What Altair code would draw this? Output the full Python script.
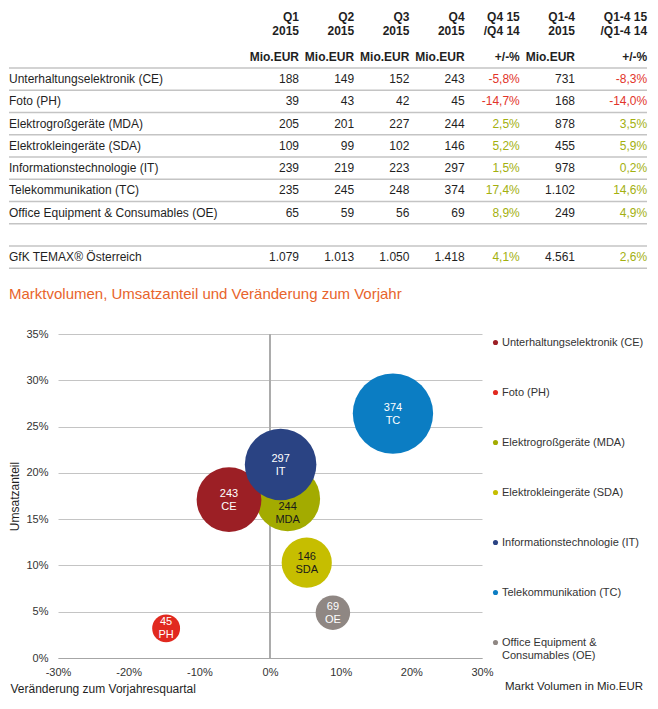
import altair as alt
import pandas as pd

# ---------------- data ----------------
categories = [
    "Unterhaltungselektronik (CE)",
    "Foto (PH)",
    "Elektrogroßgeräte (MDA)",
    "Elektrokleingeräte (SDA)",
    "Informationstechnologie (IT)",
    "Telekommunikation (TC)",
    "Office Equipment & Consumables (OE)",
]
codes = ["CE", "PH", "MDA", "SDA", "IT", "TC", "OE"]
q1 = [188, 39, 205, 109, 239, 235, 65]
q2 = [149, 43, 201, 99, 219, 245, 59]
q3 = [152, 42, 227, 102, 223, 248, 56]
q4 = [243, 45, 244, 146, 297, 374, 69]
chg_q4 = [-5.8, -14.7, 2.5, 5.2, 1.5, 17.4, 8.9]
year_total = [731, 168, 878, 455, 978, 1102, 249]
chg_year = [-8.3, -14.0, 3.5, 5.9, 0.2, 14.6, 4.9]

total_label = "GfK TEMAX® Österreich"
total_quarters = [1079, 1013, 1050, 1418]
total_chg_q4 = 4.1
total_year = 4561
total_chg_year = 2.6

header_top = ["Q1\n2015", "Q2\n2015", "Q3\n2015", "Q4\n2015",
              "Q4 15\n/Q4 14", "Q1-4\n2015", "Q1-4 15\n/Q1-4 14"]
header_unit = ["Mio.EUR", "Mio.EUR", "Mio.EUR", "Mio.EUR", "+/-%", "Mio.EUR", "+/-%"]

# bubble chart: share of Q4 market volume (%)
share = [17.1, 3.2, 17.2, 10.3, 20.9, 26.4, 4.9]

colors = ["#9c1f25", "#e1291f", "#a3ab00", "#c6be00", "#2a4383", "#0b7dc3", "#8f8783"]
inner_text_colors = ["white", "white", "#1a1a1a", "#1a1a1a", "white", "white", "white"]
draw_order = [1, 3, 0, 4, 2, 5, 6]

RED = "#e2342a"
GREEN = "#a3b00f"
TXT = "#1f1f1f"
FONT = "Liberation Sans"


def de_int(v):
    return f"{v:,}".replace(",", ".")


def de_pct(v):
    return f"{v:.1f}%".replace(".", ",")


# ---------------- table ----------------
cells = []
def add_row(r, label, vals4, c4, tot, cy):
    cells.append(dict(row=r, col=0, text=label, color=TXT, kind="label"))
    for j, v in enumerate(vals4):
        cells.append(dict(row=r, col=j + 1, text=de_int(v), color=TXT, kind="value"))
    cells.append(dict(row=r, col=5, text=de_pct(c4), color=RED if c4 < 0 else GREEN, kind="value"))
    cells.append(dict(row=r, col=6, text=de_int(tot), color=TXT, kind="value"))
    cells.append(dict(row=r, col=7, text=de_pct(cy), color=RED if cy < 0 else GREEN, kind="value"))

for i, cat in enumerate(categories):
    add_row(i + 2, cat, [q1[i], q2[i], q3[i], q4[i]], chg_q4[i], year_total[i], chg_year[i])
add_row(10, total_label, total_quarters, total_chg_q4, total_year, total_chg_year)
for j in range(7):
    cells.append(dict(row=0, col=j + 1, text=header_top[j], color=TXT, kind="head"))
    cells.append(dict(row=1, col=j + 1, text=header_unit[j], color=TXT, kind="unit"))
table_df = pd.DataFrame(cells)
lines_df = pd.DataFrame({"pos": [r + 0.5 for r in range(1, 11)]})

# table columns are placed relative to the bubble plot's left edge (shared concat origin)
xs = alt.Scale(domain=[1, 6], range=[241, 517], zero=False, nice=False)
ys = alt.Scale(domain=[2, 10], range=[71, 249], zero=False, nice=False)

tbase = alt.Chart(table_df)


def tlayer(flt, align="right", dx=0, dy=0, bold=False, xfixed=False):
    enc = dict(y=alt.Y("row:Q", scale=ys, axis=None), text="text:N",
               color=alt.Color("color:N", scale=None))
    if xfixed:
        enc["x"] = alt.value(-49)
    else:
        enc["x"] = alt.X("col:Q", scale=xs, axis=None)
    return tbase.transform_filter(flt).mark_text(
        align=align, baseline="middle", fontSize=12, font=FONT, dx=dx, dy=dy,
        fontWeight="bold" if bold else "normal", lineBreak="\n", lineHeight=14).encode(**enc)


rules = alt.Chart(lines_df).mark_rule(color="#c4c4c4", strokeWidth=1.5).encode(
    y=alt.Y("pos:Q", scale=ys, axis=None), x=alt.value(-49), x2=alt.value(589))

table = alt.layer(
    rules,
    tlayer("datum.kind == 'label'", align="left", xfixed=True),
    tlayer("datum.kind == 'value' && datum.col < 7"),
    tlayer("datum.kind == 'value' && datum.col == 7", dx=17),
    tlayer("datum.kind == 'head' && datum.col < 7", dy=-17.5, bold=True),
    tlayer("datum.kind == 'head' && datum.col == 7", dx=17, dy=-17.5, bold=True),
    tlayer("datum.kind == 'unit' && datum.col < 7", bold=True),
    tlayer("datum.kind == 'unit' && datum.col == 7", dx=17, bold=True),
).properties(width=424, height=270)

# ---------------- bubble chart ----------------
bubble_df = pd.DataFrame({
    "cat": categories, "code": codes, "chg": chg_q4, "share": share, "q4": q4,
    "lbl": [f"{v}\n{c}" for v, c in zip(q4, codes)],
    "tcol": inner_text_colors, "z": draw_order,
})

X = alt.X("chg:Q", scale=alt.Scale(domain=[-30, 30], nice=False, zero=False),
          axis=alt.Axis(values=[-30, -20, -10, 0, 10, 20, 30], labelExpr="datum.value + '%'",
                        grid=False, ticks=False, domain=True, domainColor="#a6a6a6",
                        labelFlush=False,
                        labelPadding=8, labelFontSize=11, labelColor="#333333", labelFont=FONT,
                        title="Veränderung zum Vorjahresquartal", titleAnchor="start",
                        titleAlign="left", titleX=-48, titleY=30, titleBaseline="middle",
                        titleFontWeight="normal", titleFontSize=12, titleColor=TXT, titleFont=FONT))
Y = alt.Y("share:Q", scale=alt.Scale(domain=[0, 35], nice=False, zero=False),
          axis=alt.Axis(values=[0, 5, 10, 15, 20, 25, 30, 35], labelExpr="datum.value + '%'",
                        grid=True, gridColor="#c4c4c4", ticks=False, domain=False,
                        labelFlush=False,
                        labelPadding=10, labelFontSize=11, labelColor="#333333", labelFont=FONT,
                        title="Umsatzanteil", titlePadding=4, titleFontWeight="normal",
                        titleFontSize=12, titleColor=TXT, titleFont=FONT))

zero_line = alt.Chart(bubble_df).mark_rule(color="#ababab", strokeWidth=1).encode(x=alt.datum(0))

bubbles = alt.Chart(bubble_df).mark_circle(opacity=1).encode(
    x=X, y=Y,
    size=alt.Size("q4:Q", scale=alt.Scale(domain=[0, 400], range=[0, 6900]), legend=None),
    color=alt.Color("cat:N", scale=alt.Scale(domain=categories, range=colors),
                    legend=alt.Legend(
                        title="Markt Volumen in Mio.EUR", titleOrient="bottom", titleAnchor="end",
                        titleFontWeight="normal", titleFontSize=11.5, titleColor=TXT, titleFont=FONT,
                        titlePadding=20, orient="right", offset=5, padding=3,
                        symbolType="circle", symbolSize=26, symbolStrokeWidth=0, symbolOpacity=1,
                        labelFontSize=11, labelColor="#333333", labelFont=FONT, labelOffset=1,
                        labelLimit=300, rowPadding=38,
                        labelExpr="datum.label == 'Office Equipment & Consumables (OE)' ? "
                                  "['Office Equipment &', 'Consumables (OE)'] : datum.label")),
    order=alt.Order("z:Q"))

texts = alt.Chart(bubble_df).transform_filter("datum.code != 'MDA'").mark_text(
    fontSize=11, font=FONT, lineBreak="\n", lineHeight=13, baseline="middle", dy=-6).encode(
    x="chg:Q", y="share:Q", text="lbl:N", color=alt.Color("tcol:N", scale=None))
text_mda = alt.Chart(bubble_df).transform_filter("datum.code == 'MDA'").mark_text(
    fontSize=11, font=FONT, lineBreak="\n", lineHeight=13, baseline="middle", dy=8).encode(
    x="chg:Q", y="share:Q", text="lbl:N", color=alt.Color("tcol:N", scale=None))

bubble = alt.layer(zero_line, bubbles, texts, text_mda).properties(
    width=424, height=324,
    title=alt.TitleParams("Marktvolumen, Umsatzanteil und Veränderung zum Vorjahr",
                          color="#e8642c", fontSize=15, fontWeight="normal", font=FONT,
                          anchor="start", frame="bounds", offset=26))

chart = alt.vconcat(table, bubble, spacing=9).resolve_scale(
    color="independent").resolve_legend(color="independent").properties(
    padding=0,
    config=alt.Config(font=FONT, view=alt.ViewConfig(stroke=None)))

chart.save("out.html", embed_options={"renderer": "svg", "actions": False})
